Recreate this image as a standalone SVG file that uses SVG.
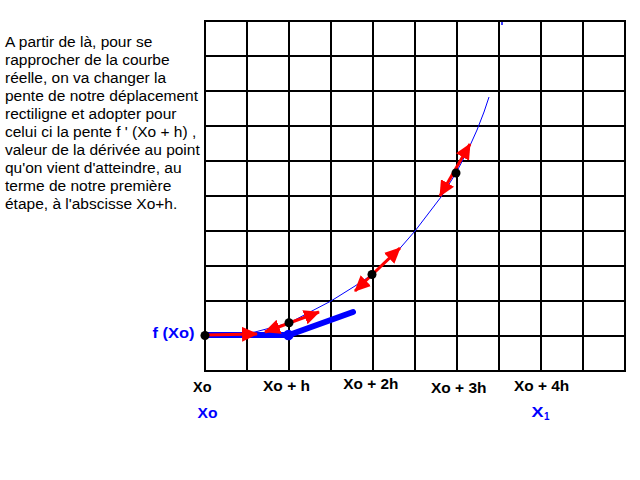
<svg xmlns="http://www.w3.org/2000/svg" width="640" height="480" viewBox="0 0 640 480">
<style>
.grid line{stroke:#000;stroke-width:2}
.para{font-family:"Liberation Sans",Arial,sans-serif;font-size:15.5px;fill:#000}
.lbl{font-family:"Liberation Sans",Arial,sans-serif;font-weight:bold;font-size:14px;fill:#000}
.blbl{font-family:"Liberation Sans",Arial,sans-serif;font-weight:bold;font-size:15px;fill:#0000ff}
.red{stroke:#ff0000;stroke-width:3;fill:none}
</style>
<defs>
<marker id="ah" markerUnits="userSpaceOnUse" viewBox="0 0 16 15" markerWidth="16" markerHeight="15" refX="15" refY="7.5" orient="auto-start-reverse">
<path d="M0,0 L16,7.5 L0,15 Z" fill="#ff0000"/>
</marker>
</defs>
<rect width="640" height="480" fill="#fff"/>
<g id="grid" class="grid">
<line x1="205" y1="21" x2="205" y2="371"/><line x1="247" y1="21" x2="247" y2="371"/><line x1="289" y1="21" x2="289" y2="371"/><line x1="331" y1="21" x2="331" y2="371"/><line x1="373" y1="21" x2="373" y2="371"/><line x1="415" y1="21" x2="415" y2="371"/><line x1="457" y1="21" x2="457" y2="371"/><line x1="499" y1="21" x2="499" y2="371"/><line x1="541" y1="21" x2="541" y2="371"/><line x1="583" y1="21" x2="583" y2="371"/><line x1="625" y1="21" x2="625" y2="371"/>
<line x1="204" y1="21" x2="626" y2="21"/><line x1="204" y1="56" x2="626" y2="56"/><line x1="204" y1="91" x2="626" y2="91"/><line x1="204" y1="126" x2="626" y2="126"/><line x1="204" y1="161" x2="626" y2="161"/><line x1="204" y1="196" x2="626" y2="196"/><line x1="204" y1="231" x2="626" y2="231"/><line x1="204" y1="266" x2="626" y2="266"/><line x1="204" y1="301" x2="626" y2="301"/><line x1="204" y1="336" x2="626" y2="336"/><line x1="204" y1="371" x2="626" y2="371"/>
</g>
<g id="curve">
<polyline points="205,336 230,335 255,332 289,323 331,301 355,286 373,274 395,254 415,231 441,197 456,173 468,150 477,130 484,112 489,97" fill="none" stroke="#0000ff" stroke-width="1"/>
<line x1="502" y1="22" x2="502" y2="25" stroke="#0000ff" stroke-width="1.5"/>
</g>
<g id="euler-step">
<polyline points="205,335 289,335 353,312" fill="none" stroke="#0000ff" stroke-width="6" stroke-linecap="round" stroke-linejoin="round"/>
<circle cx="288.5" cy="335" r="5.2" fill="#0000ff"/>
</g>
<g id="connectors">
<line class="red" x1="205" y1="335" x2="257" y2="334" marker-end="url(#ah)"/>
<line class="red" x1="265" y1="332" x2="319" y2="312" marker-start="url(#ah)" marker-end="url(#ah)"/>
<line class="red" x1="355" y1="291" x2="400" y2="248" marker-start="url(#ah)" marker-end="url(#ah)"/>
<line class="red" x1="440" y1="196" x2="470" y2="144" marker-start="url(#ah)" marker-end="url(#ah)"/>
</g>
<g id="points" fill="#000">
<circle cx="205" cy="335.5" r="4.5"/>
<circle cx="289" cy="322.7" r="4.5"/>
<circle cx="372" cy="274.5" r="4.5"/>
<circle cx="456" cy="173" r="4.5"/>
</g>
<g id="text">
<text class="para" x="5" y="47">A partir de là, pour se</text>
<text class="para" x="5" y="65">rapprocher de la courbe</text>
<text class="para" x="5" y="83">réelle, on va changer la</text>
<text class="para" x="5" y="101">pente de notre déplacement</text>
<text class="para" x="5" y="119">rectiligne et adopter pour</text>
<text class="para" x="5" y="137">celui ci la pente f ' (Xo + h) ,</text>
<text class="para" x="5" y="155">valeur de la dérivée au point</text>
<text class="para" x="5" y="173">qu'on vient d'atteindre, au</text>
<text class="para" x="5" y="191">terme de notre première</text>
<text class="para" x="5" y="209">étape, à l'abscisse Xo+h.</text>
</g>
<g id="axis-labels">
<text class="blbl" x="152.5" y="338" textLength="42" lengthAdjust="spacingAndGlyphs">f (Xo)</text>
<text class="lbl" x="193" y="392" textLength="18.5" lengthAdjust="spacingAndGlyphs">Xo</text>
<text class="lbl" x="263" y="390.5" textLength="47" lengthAdjust="spacingAndGlyphs">Xo + h</text>
<text class="lbl" x="343.3" y="389.3" textLength="55" lengthAdjust="spacingAndGlyphs">Xo + 2h</text>
<text class="lbl" x="431" y="392.5" textLength="55.5" lengthAdjust="spacingAndGlyphs">Xo + 3h</text>
<text class="lbl" x="514" y="391" textLength="55.3" lengthAdjust="spacingAndGlyphs">Xo + 4h</text>
<text class="blbl" x="197.5" y="418" textLength="20" lengthAdjust="spacingAndGlyphs">Xo</text>
<text class="blbl" x="531.5" y="417" textLength="12" lengthAdjust="spacingAndGlyphs">X</text>
<text class="blbl" x="544" y="420" style="font-size:11px" textLength="5.5" lengthAdjust="spacingAndGlyphs">1</text>
</g>
</svg>
